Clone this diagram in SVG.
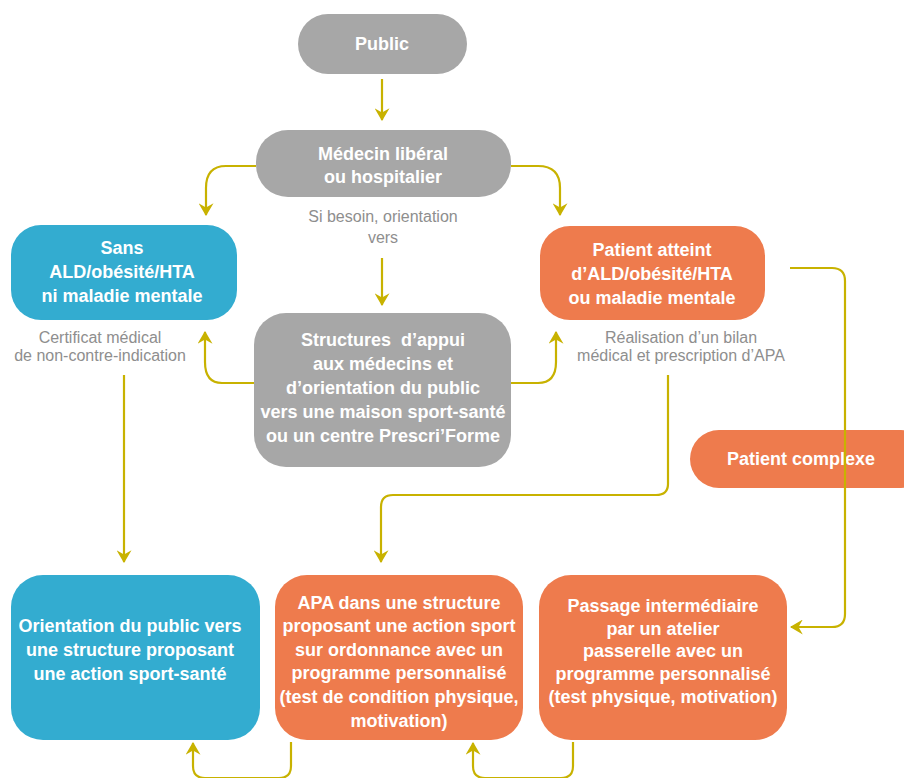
<svg xmlns="http://www.w3.org/2000/svg" width="904" height="778" viewBox="0 0 904 778">
<defs>
<style>
.grey{fill:#a7a7a7}
.blue{fill:#33acd0}
.orange{fill:#ee7b4d}
.t{font-family:"Liberation Sans",Arial,sans-serif;font-weight:bold;font-size:18px;fill:#ffffff;text-anchor:middle}
.l{font-family:"Liberation Sans",Arial,sans-serif;font-size:16px;fill:#8e8e8e;text-anchor:middle}
.c{fill:none;stroke:#c8b200;stroke-width:2.2}
</style>
<marker id="ah" viewBox="0 0 12 14" refX="11" refY="7" markerWidth="13" markerHeight="15" markerUnits="userSpaceOnUse" orient="auto">
<path d="M0,0 L12,7 L0,14 L4,7 Z" fill="#c8b200"/>
</marker>
</defs>
<rect width="904" height="778" fill="#ffffff"/>

<g id="public">
<rect class="grey" x="298" y="14" width="169" height="60" rx="30"/>
<text class="t" x="382" y="50">Public</text>
</g>
<g id="medecin">
<rect class="grey" x="256" y="130" width="255" height="67" rx="32"/>
<text class="t" x="383" y="160">Médecin libéral</text>
<text class="t" x="383" y="183">ou hospitalier</text>
</g>
<g id="label-si-besoin">
<text class="l" x="383" y="222">Si besoin, orientation</text>
<text class="l" x="383" y="243">vers</text>
</g>
<g id="sans">
<rect class="blue" x="11" y="225" width="226" height="95" rx="30"/>
<text class="t" x="122" y="254">Sans</text>
<text class="t" x="122" y="278">ALD/obésité/HTA</text>
<text class="t" x="122" y="302">ni maladie mentale</text>
</g>
<g id="label-certificat">
<text class="l" x="100" y="343">Certificat médical</text>
<text class="l" x="100" y="361">de non-contre-indication</text>
</g>
<g id="structures">
<rect class="grey" x="254" y="313" width="257" height="154" rx="32"/>
<text class="t" x="383" y="346">Structures&#160; d’appui</text>
<text class="t" x="383" y="370">aux médecins et</text>
<text class="t" x="383" y="394">d’orientation du public</text>
<text class="t" x="383" y="418">vers une maison sport-santé</text>
<text class="t" x="383" y="442">ou un centre Prescri’Forme</text>
</g>
<g id="patient-atteint">
<rect class="orange" x="540" y="226" width="225" height="94" rx="30"/>
<text class="t" x="652" y="256">Patient atteint</text>
<text class="t" x="652" y="280">d’ALD/obésité/HTA</text>
<text class="t" x="652" y="304">ou maladie mentale</text>
</g>
<g id="label-realisation">
<text class="l" x="681" y="343">Réalisation d’un bilan</text>
<text class="l" x="681" y="361">médical et prescription d’APA</text>
</g>
<g id="patient-complexe">
<rect class="orange" x="690" y="430" width="240" height="58" rx="29"/>
<text class="t" x="801" y="465">Patient complexe</text>
</g>
<g id="orientation">
<rect class="blue" x="11" y="575" width="249" height="165" rx="32"/>
<text class="t" x="130" y="632">Orientation du public vers</text>
<text class="t" x="130" y="656">une structure proposant</text>
<text class="t" x="130" y="680">une action sport-santé</text>
</g>
<g id="apa">
<rect class="orange" x="275" y="575" width="248" height="165" rx="32"/>
<text class="t" x="399" y="609">APA dans une structure</text>
<text class="t" x="399" y="632">proposant une action sport</text>
<text class="t" x="399" y="656">sur ordonnance avec un</text>
<text class="t" x="399" y="679">programme personnalisé</text>
<text class="t" x="399" y="703">(test de condition physique,</text>
<text class="t" x="399" y="727">motivation)</text>
</g>
<g id="passage">
<rect class="orange" x="539" y="575" width="248" height="165" rx="32"/>
<text class="t" x="663" y="612">Passage intermédiaire</text>
<text class="t" x="663" y="635">par un atelier</text>
<text class="t" x="663" y="657">passerelle avec un</text>
<text class="t" x="663" y="680">programme personnalisé</text>
<text class="t" x="663" y="703">(test physique, motivation)</text>
</g>

<g id="connectors">
<path class="c" d="M382,79 V120" marker-end="url(#ah)"/>
<path class="c" d="M256,166 H226 Q206,166 206,188 V215" marker-end="url(#ah)"/>
<path class="c" d="M511,166 H538 Q560,166 560,188 V215" marker-end="url(#ah)"/>
<path class="c" d="M382,258 V305" marker-end="url(#ah)"/>
<path class="c" d="M254,383 H222 Q205,383 205,362 V332" marker-end="url(#ah)"/>
<path class="c" d="M511,383 H538 Q556,383 556,362 V332" marker-end="url(#ah)"/>
<path class="c" d="M124,375 V562" marker-end="url(#ah)"/>
<path class="c" d="M668,375 V484 Q668,495 656,495 H393 Q381,495 381,507 V562" marker-end="url(#ah)"/>
<path class="c" d="M790,268 H832 Q845,268 845,281 V614 Q845,627 832,627 H791" marker-end="url(#ah)"/>
<path class="c" d="M291,742 V766 Q291,778 279,778 H205 Q193,778 193,766 V743" marker-end="url(#ah)"/>
<path class="c" d="M573,742 V766 Q573,778 561,778 H485 Q473,778 473,766 V743" marker-end="url(#ah)"/>
</g>
</svg>
